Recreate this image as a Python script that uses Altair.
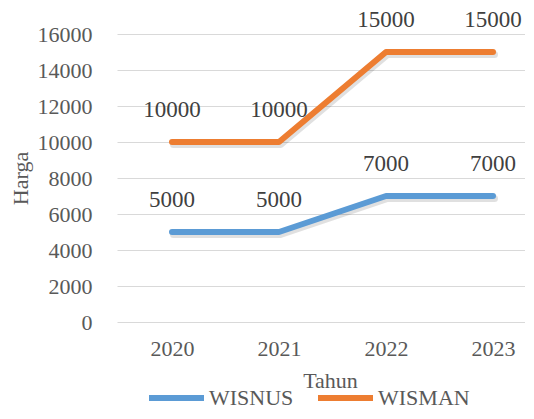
import altair as alt
import pandas as pd

years = [2020, 2021, 2022, 2023]
wisnus = [5000, 5000, 7000, 7000]
wisman = [10000, 10000, 15000, 15000]
series = ["WISNUS", "WISMAN"]
colors = ["#5B9BD5", "#ED7D31"]
y_ticks = [0, 2000, 4000, 6000, 8000, 10000, 12000, 14000, 16000]

rows = []
for s, vals in zip(series, [wisnus, wisman]):
    for yr, v in zip(years, vals):
        rows.append({"Tahun": yr, "Harga": v, "Seri": s})
df = pd.DataFrame(rows)

FONT = "Liberation Serif"
TXT = "#595959"
W = 408
STEP = 107.0
FIRST = 55.0
x_lo = years[0] - FIRST / STEP
x_hi = x_lo + W / STEP

x = alt.X("Tahun:Q", scale=alt.Scale(domain=[x_lo, x_hi], nice=False, zero=False),
          axis=alt.Axis(title="Tahun", values=years, format="d", labelAngle=0, ticks=False,
                        domain=False, grid=False,
                        labelFontSize=22, labelFont=FONT, labelColor=TXT, labelPadding=16,
                        labelFlush=False, labelOverlap=False,
                        titleFont=FONT, titleFontSize=22, titleFontWeight="normal", titleColor=TXT,
                        titleX=213, titleY=58, titleBaseline="middle", titleAlign="center"))
y = alt.Y("Harga:Q", scale=alt.Scale(domain=[0, 16000], nice=False),
          axis=alt.Axis(title="Harga", values=y_ticks, format="d", ticks=False, domain=False,
                        gridColor="#d9d9d9", gridWidth=1,
                        labelFontSize=22, labelFont=FONT, labelColor=TXT, labelPadding=25,
                        titleFont=FONT, titleFontSize=22, titleFontWeight="normal", titleColor=TXT,
                        titleX=-97, titleY=144, titleAngle=-90,
                        titleBaseline="middle", titleAlign="center"))
color = alt.Color("Seri:N", scale=alt.Scale(domain=series, range=colors),
                  legend=alt.Legend(title=None, orient="none", direction="horizontal",
                                    legendX=29, legendY=353, symbolType="stroke",
                                    symbolSize=3025, symbolStrokeWidth=6, clipHeight=22,
                                    labelFont=FONT, labelFontSize=22, labelColor=TXT,
                                    labelOffset=2, columnPadding=21))

base = alt.Chart(df)
shadow = base.mark_line(strokeWidth=7, strokeCap="round", strokeJoin="round",
                        color="#000000", opacity=0.12, xOffset=1.5, yOffset=2.5).encode(
    x=x, y=y, detail="Seri:N", order=alt.Order("Tahun:Q"))
lines = base.mark_line(strokeWidth=6, strokeCap="round", strokeJoin="round").encode(
    x=x, y=y, color=color, order=alt.Order("Tahun:Q"))
labels = base.mark_text(dy=-20, fontSize=23, font=FONT, color="#404040", baseline="bottom").encode(
    x=x, y=y, text=alt.Text("Harga:Q", format="d"))

chart = (shadow + lines + labels).properties(
    width=W, height=288,
    autosize=alt.AutoSizeParams(type="none"),
    padding={"left": 109, "top": 26, "right": 0, "bottom": 89},
).configure_view(stroke=None)

chart.save("out.html", embed_options={"renderer": "svg", "actions": False})
